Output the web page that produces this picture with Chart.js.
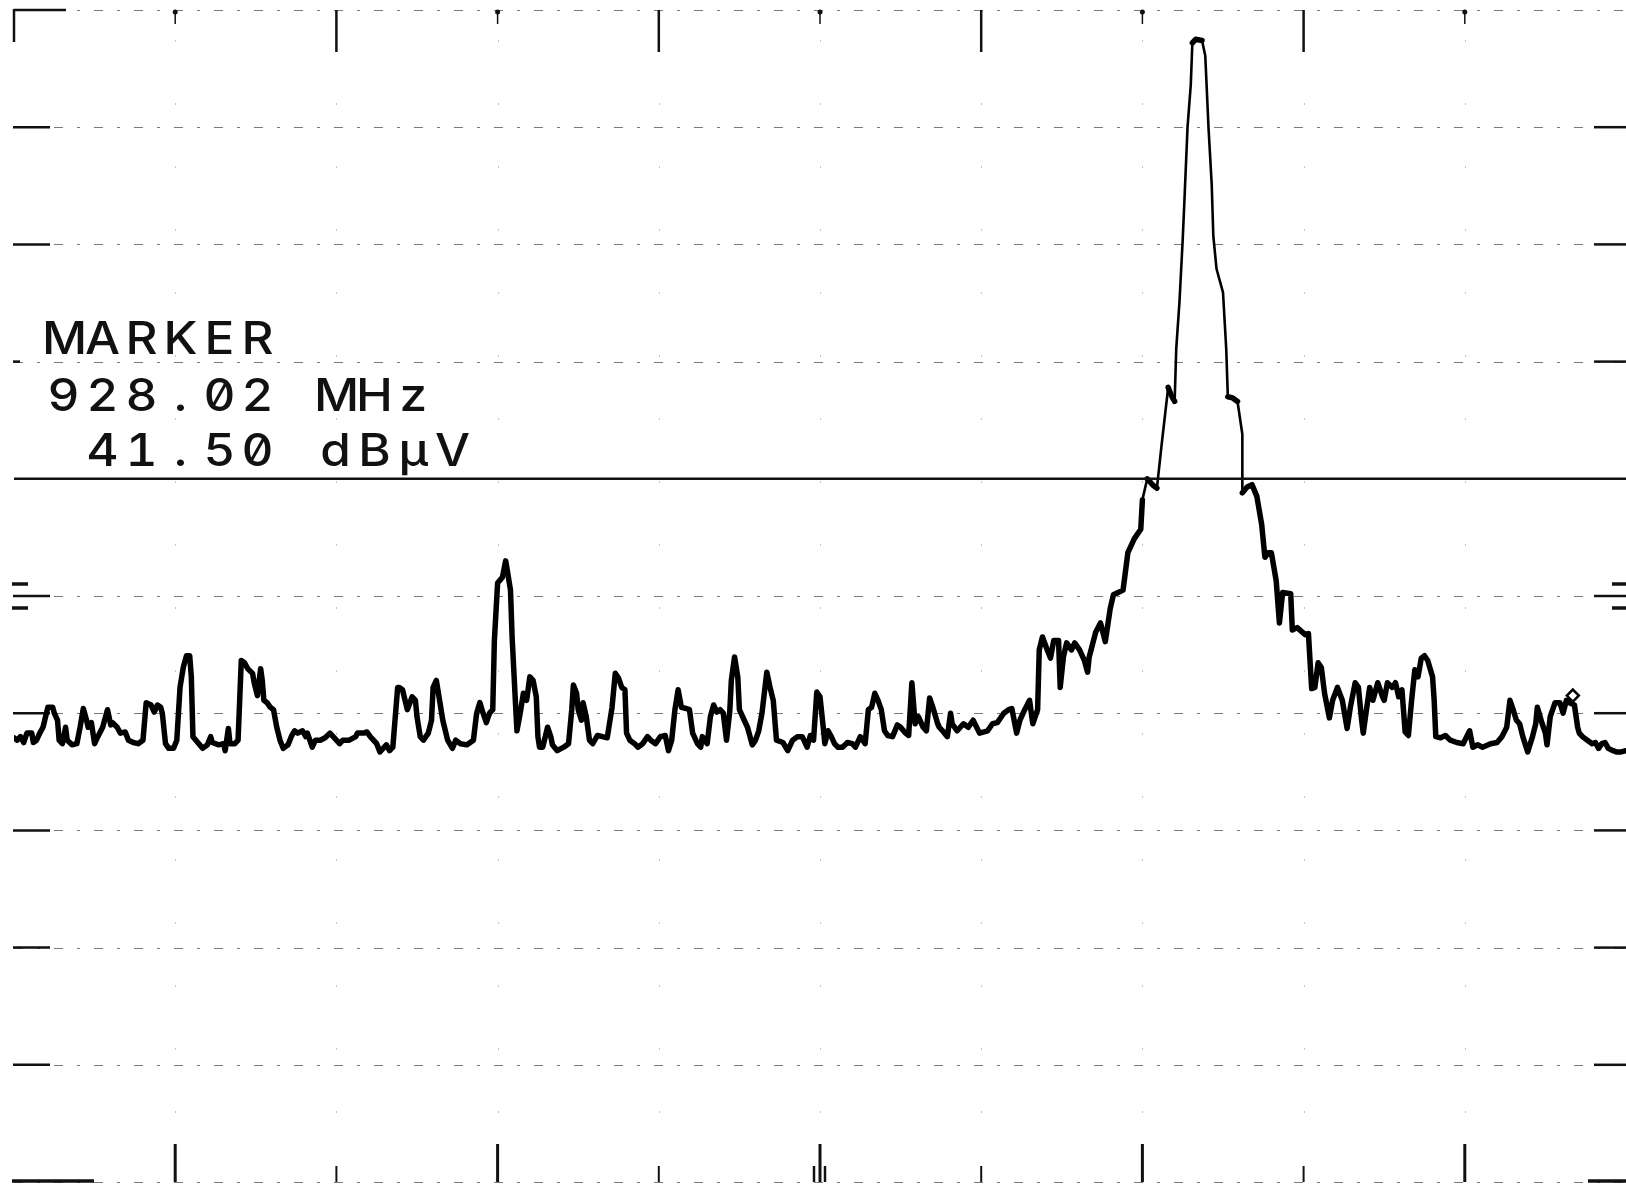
<!DOCTYPE html>
<html>
<head>
<meta charset="utf-8">
<script src="https://cdn.jsdelivr.net/npm/chart.js@4.4.1/dist/chart.umd.min.js"></script>
<style>
  html, body { margin: 0; padding: 0; background: #fff; overflow: hidden; }
  #wrap { position: relative; width: 1626px; height: 1187px; }
  #plot { position: absolute; left: 0; top: 0; }
  .readout { position: absolute; left: 44px; font-family: Inter, 'DejaVu Sans', sans-serif; font-size: 45px; line-height: 45px;
             font-weight: 500; color: #111; white-space: pre; font-feature-settings: "zero" 1, "tnum" 1; }
  .readout span { display: inline-block; width: 38.9px; text-align: center; transform: scaleX(1.1); }
</style>
</head>
<body>
<div id="wrap">
  <canvas id="plot" width="1626" height="1187"></canvas>
</div>
<script>
// trace position along the sweep, in percent of span (0 = left edge, 100 = right edge)
const traceX = [
  0.0, 0.2, 0.4, 0.6, 0.8, 1.1, 1.2, 1.4, 1.6, 1.8,
  2.1, 2.4, 2.5, 2.7, 2.8, 3.0, 3.2, 3.3, 3.6, 3.9,
  4.1, 4.3, 4.5, 4.6, 4.8, 5.0, 5.2, 5.5, 5.8, 6.0,
  6.1, 6.4, 6.6, 6.9, 7.1, 7.4, 7.7, 8.0, 8.2, 8.5,
  8.7, 8.9, 9.1, 9.2, 9.4, 9.6, 9.9, 10.1, 10.3, 10.5,
  10.7, 10.9, 11.0, 11.1, 11.4, 11.7, 12.0, 12.2, 12.3, 12.7,
  13.0, 13.1, 13.3, 13.4, 13.7, 13.9, 14.0, 14.1, 14.3, 14.5,
  14.8, 14.9, 15.1, 15.3, 15.4, 15.5, 15.7, 15.9, 16.1, 16.3,
  16.5, 16.7, 17.0, 17.2, 17.4, 17.6, 17.9, 18.1, 18.2, 18.5,
  18.7, 19.0, 19.3, 19.6, 19.8, 20.0, 20.2, 20.4, 20.8, 21.2,
  21.3, 21.7, 21.9, 22.1, 22.3, 22.5, 22.7, 22.9, 23.1, 23.3,
  23.5, 23.8, 23.9, 24.1, 24.4, 24.7, 24.9, 25.0, 25.2, 25.4,
  25.7, 25.9, 26.0, 26.2, 26.4, 26.6, 26.9, 27.2, 27.4, 27.7,
  28.1, 28.5, 28.7, 28.9, 29.1, 29.3, 29.5, 29.7, 29.8, 30.0,
  30.3, 30.5, 30.6, 30.8, 30.9, 31.1, 31.2, 31.4, 31.6, 31.8,
  32.0, 32.2, 32.4, 32.5, 32.6, 32.8, 33.1, 33.3,
  33.4, 33.7, 34.1, 34.4, 34.6, 34.7, 34.9, 35.0, 35.2, 35.3,
  35.5, 35.7, 35.9, 36.2, 36.5, 36.8, 37.1, 37.3, 37.5, 37.7,
  37.9, 38.0, 38.2, 38.5, 38.7, 39.0, 39.3, 39.5, 39.8, 40.1,
  40.4, 40.6, 40.8, 41.0, 41.2, 41.4, 41.7, 41.9, 42.1, 42.4,
  42.6, 42.7, 43.0, 43.2, 43.4, 43.6, 43.8, 44.0, 44.2, 44.4,
  44.5, 44.7, 44.9, 45.0, 45.3, 45.5, 45.8, 46.0, 46.2, 46.4,
  46.7, 46.9, 47.1, 47.3, 47.7, 48.0, 48.3, 48.6, 48.9, 49.2,
  49.4,
  49.6, 49.8, 50.0, 50.2, 50.3, 50.5, 50.7, 50.9, 51.1, 51.4,
  51.7, 52.0, 52.2, 52.5, 52.8, 53.0, 53.2, 53.4, 53.6, 53.8,
  54.0, 54.2, 54.5, 54.8, 55.0, 55.3, 55.5, 55.7, 55.9, 56.1,
  56.4, 56.6, 56.8, 57.0, 57.3, 57.4, 57.6, 57.9, 58.1, 58.2,
  58.5, 58.9, 59.2, 59.5, 59.9, 60.4, 60.7, 61.0, 61.4, 61.7,
  61.9, 62.2, 62.4, 62.7, 63.0, 63.2, 63.5, 63.6, 63.8, 64.1,
  64.3, 64.5, 64.8, 64.9, 65.1, 65.3, 65.6, 65.8, 66.1, 66.4,
  66.6,
  66.7, 67.1, 67.4, 67.7, 68.0, 68.2, 68.5, 68.8, 69.1, 69.5,
  69.9, 70.0, 70.3, 70.7, 70.9, 71.2, 71.4, 71.6, 71.8, 72.0,
  72.1, 72.3, 72.5, 72.6, 72.8, 73.0, 73.1, 73.3, 73.7, 73.9,
  74.1, 74.3, 74.4, 74.6, 75.0, 75.2, 75.3, 75.6, 75.9, 76.2,
  76.2, 76.5, 76.8, 77.1, 77.4, 77.6, 77.8, 78.0, 78.3, 78.5,
  78.7, 79.2, 79.3, 79.6, 80.1, 80.3,
  80.5, 80.7, 80.9, 81.1, 81.3, 81.6, 81.8, 82.1, 82.4, 82.7,
  82.9, 83.2, 83.4, 83.6, 83.7, 83.9, 84.1, 84.3, 84.6, 84.9,
  85.0, 85.2, 85.5, 85.7, 85.9, 86.1, 86.3, 86.5, 86.7, 86.9,
  87.1, 87.3, 87.5, 87.7, 88.0, 88.1, 88.2, 88.5, 88.8, 89.1,
  89.5, 89.9, 90.3, 90.5, 90.8, 91.1, 91.6, 92.0, 92.3, 92.6,
  92.8, 93.0, 93.2, 93.4, 93.6, 93.9, 94.2, 94.4, 94.5, 94.8,
  95.0, 95.1, 95.3, 95.6, 95.9, 96.1, 96.3, 96.5, 96.8, 97.0,
  97.1, 97.3, 97.6, 97.9, 98.1, 98.3, 98.5, 98.7, 98.9, 99.2,
  99.4, 99.7, 100.0
];

// trace level, dBµV
const traceY = [
  -18.1, -18.3, -18.0, -18.5, -17.7, -17.7, -18.5, -18.3, -17.7, -17.2,
  -15.5, -15.5, -16.0, -16.6, -18.3, -18.6, -17.2, -18.3, -18.7, -18.6,
  -17.2, -15.6, -16.6, -17.2, -16.8, -18.6, -18.0, -17.2, -15.7, -17.0,
  -16.8, -17.2, -17.7, -17.6, -18.3, -18.5, -18.6, -18.3, -15.1, -15.3,
  -15.9, -15.3, -15.5, -16.0, -18.6, -19.0, -19.0, -18.3, -13.8, -12.1,
  -11.1, -11.1, -12.9, -18.0, -18.5, -19.0, -18.7, -18.0, -18.5, -18.7,
  -18.6, -19.2, -17.3, -18.6, -18.6, -18.3, -14.9, -11.5, -11.7, -12.2,
  -12.6, -13.4, -14.5, -12.2, -13.2, -14.9, -15.1, -15.5, -15.7, -17.2,
  -18.3, -19.0, -18.7, -18.0, -17.5, -17.7, -17.5, -18.0, -17.7, -18.9,
  -18.3, -18.3, -18.1, -17.7, -18.0, -18.3, -18.6, -18.3, -18.3, -18.0,
  -17.7, -17.7, -17.6, -18.0, -18.3, -18.6, -19.3, -19.0, -18.7, -19.2,
  -18.9, -13.8, -13.8, -14.0, -15.7, -14.6, -14.9, -16.3, -18.0, -18.3,
  -17.7, -16.6, -13.8, -13.2, -14.9, -16.6, -18.3, -19.0, -18.3, -18.6,
  -18.7, -18.3, -16.0, -15.1, -16.0, -16.8, -16.0, -15.7, -9.8, -4.9,
  -4.4, -3.0, -3.8, -5.5, -9.5, -14.9, -17.5, -16.0, -14.3, -14.9,
  -12.9, -13.2, -14.6, -18.0, -18.9, -18.9, -17.2, -18.0,
  -18.7, -19.2, -18.9, -18.6, -15.7, -13.6, -14.3, -15.7, -16.6, -15.1,
  -16.3, -18.3, -18.6, -17.9, -18.0, -18.1, -15.5, -12.6, -13.0, -13.8,
  -14.0, -17.7, -18.3, -18.6, -18.9, -18.6, -18.0, -18.3, -18.6, -18.0,
  -17.9, -19.2, -18.3, -15.7, -14.0, -15.5, -15.6, -15.7, -17.7, -18.6,
  -18.9, -18.0, -18.6, -16.3, -15.3, -15.9, -15.7, -16.0, -18.3, -15.9,
  -13.2, -11.2, -12.9, -15.7, -16.6, -17.2, -18.7, -18.3, -17.5, -16.0,
  -12.5, -13.8, -14.9, -18.3, -18.5, -19.2, -18.3, -18.0, -18.0, -18.9,
  -17.9,
  -18.3, -14.2, -14.6, -17.2, -18.6, -17.5, -18.0, -18.6, -18.9, -18.9,
  -18.5, -18.6, -18.9, -18.0, -18.6, -15.7, -15.5, -14.3, -14.9, -15.7,
  -17.5, -17.9, -18.0, -17.0, -17.2, -17.7, -17.9, -13.4, -16.9, -16.3,
  -17.2, -17.5, -14.7, -15.5, -16.9, -17.2, -17.5, -18.0, -16.0, -16.9,
  -17.5, -16.9, -17.2, -16.6, -17.7, -17.5, -16.9, -16.8, -16.0, -15.7,
  -15.6, -17.7, -16.6, -15.7, -14.9, -16.9, -15.7, -10.6, -9.5, -10.6,
  -11.3, -9.8, -9.8, -13.8, -11.2, -10.0, -10.6, -10.0, -10.6, -11.5,
  -12.5,
  -11.2, -9.1, -8.3, -9.9, -7.1, -5.9, -5.7, -5.5, -2.3, -1.1,
  -0.3, 2.2, 4.0, 3.4, 3.2, 7.0, 9.4, 11.8, 11.1, 10.6,
  15.1, 19.1, 24.4, 27.5, 34.0, 37.6, 41.2, 41.5, 41.4, 40.1,
  34.0, 29.1, 24.7, 21.9, 19.9, 15.1, 11.0, 10.9, 10.6, 7.8,
  2.8, 3.3, 3.5, 2.5, 0.1, -2.7, -2.3, -2.3, -4.7, -8.3,
  -5.7, -5.8, -8.9, -8.7, -9.3, -9.2,
  -13.9, -13.8, -11.7, -12.1, -14.3, -16.4, -14.9, -13.8, -14.9, -17.3,
  -15.5, -13.4, -13.8, -16.6, -17.7, -15.7, -13.8, -14.9, -13.4, -14.6,
  -14.9, -13.4, -13.8, -13.4, -14.6, -14.0, -17.6, -17.9, -14.9, -12.3,
  -12.9, -11.3, -11.1, -11.5, -12.9, -14.9, -18.0, -18.1, -17.9, -18.3,
  -18.5, -18.6, -17.5, -18.9, -18.7, -18.9, -18.6, -18.5, -18.0, -17.2,
  -14.9, -15.7, -16.6, -16.9, -18.0, -19.3, -18.0, -16.9, -15.5, -16.9,
  -17.7, -18.7, -16.3, -15.1, -15.1, -16.0, -14.9, -15.1, -15.3, -17.2,
  -17.7, -18.0, -18.3, -18.6, -18.5, -19.0, -18.6, -18.5, -19.0, -19.2,
  -19.3, -19.3, -19.2
];

const diamondX = [96.7];
const diamondY = [-14.5];

const refTop = 44;         // dBµV at top graticule line
const refBottom = -56;     // dBµV at bottom graticule line
const displayLine = 4;     // dBµV
const gridLevels = [34, 24, 14, -6, -16, -26, -36, -46];
const divisions = [10, 20, 30, 40, 50, 60, 70, 80, 90];

const readout = ['MARKER', '928.02 MHz', ' 41.50 dBμV'];
const readoutTops = [315, 372, 427];

const wrap = document.getElementById('wrap');
readout.forEach((txt, i) => {
  const div = document.createElement('div');
  div.className = 'readout';
  div.style.top = readoutTops[i] + 'px';
  [...txt].forEach(ch => {
    const s = document.createElement('span');
    s.textContent = ch;
    div.appendChild(s);
  });
  wrap.appendChild(div);
});

function seg(ctx, x1, y1, x2, y2) {
  ctx.beginPath();
  ctx.moveTo(x1, y1);
  ctx.lineTo(x2, y2);
  ctx.stroke();
}

const graticule = {
  id: 'graticule',
  beforeDatasetsDraw(chart) {
    const { ctx, chartArea: a, scales: { x, y } } = chart;
    ctx.save();
    ctx.lineCap = 'butt';

    // faint vertical grid (mostly dropped out on the plot)
    ctx.strokeStyle = '#c4c4c4';
    ctx.lineWidth = 1;
    ctx.setLineDash([2, 61]);
    divisions.forEach(v => {
      const px = Math.round(x.getPixelForValue(v)) + 0.5;
      seg(ctx, px, a.top + 30, px, a.bottom - 40);
    });

    // horizontal graticule
    ctx.strokeStyle = '#7a7a7a';
    ctx.lineWidth = 1.2;
    ctx.setLineDash([9, 14, 3, 14]);
    gridLevels.concat([refTop, refBottom]).forEach(v => {
      const py = Math.round(y.getPixelForValue(v)) + 0.5;
      seg(ctx, a.left, py, a.right, py);
    });

    // solid stubs at both ends of each graticule line
    ctx.setLineDash([]);
    ctx.strokeStyle = '#111';
    ctx.lineWidth = 2.5;
    gridLevels.forEach(v => {
      const py = y.getPixelForValue(v);
      seg(ctx, a.left - 1, py, a.left + (v === 14 ? 6 : 36), py);
      seg(ctx, a.right - 32, py, a.right, py);
    });

    // top left corner
    const top = y.getPixelForValue(refTop);
    seg(ctx, a.left, top, a.left + 52, top);
    seg(ctx, a.left, top - 1, a.left, top + 32);

    // bottom border solid ends
    const bot = y.getPixelForValue(refBottom);
    ctx.lineWidth = 3.5;
    seg(ctx, a.left - 2, bot - 1, a.left + 80, bot - 1);
    seg(ctx, a.right - 38, bot - 1, a.right, bot - 1);

    // reference level marks on the -6 line
    const rl = y.getPixelForValue(-6);
    ctx.lineWidth = 3.5;
    [-12, 12].forEach(d => {
      seg(ctx, a.left - 2, rl + d, a.left + 14, rl + d);
      seg(ctx, a.right - 14, rl + d, a.right, rl + d);
    });

    // ticks on top edge
    divisions.forEach((v, i) => {
      const px = x.getPixelForValue(v);
      if (i % 2 === 1) {
        ctx.lineWidth = 2.5;
        seg(ctx, px, top, px, top + 42);
      } else {
        ctx.lineWidth = 1.5;
        seg(ctx, px, top, px, top + 14);
        ctx.beginPath();
        ctx.arc(px, top + 2, 2.5, 0, Math.PI * 2);
        ctx.fillStyle = '#111';
        ctx.fill();
      }
    });

    // ticks on bottom edge
    divisions.forEach((v, i) => {
      const px = x.getPixelForValue(v);
      if (i % 2 === 0) {
        ctx.lineWidth = 3;
        seg(ctx, px, bot - 38, px, bot);
      } else {
        ctx.lineWidth = 2;
        seg(ctx, px, bot - 16, px, bot);
      }
    });
    const mid = x.getPixelForValue(50);
    ctx.lineWidth = 2.5;
    seg(ctx, mid - 6, bot - 16, mid - 6, bot);
    seg(ctx, mid + 5, bot - 16, mid + 5, bot);

    ctx.restore();
  }
};

new Chart(document.getElementById('plot').getContext('2d'), {
  type: 'line',
  data: {
    datasets: [
      {
        label: 'display line',
        data: [{ x: 0, y: displayLine }, { x: 100, y: displayLine }],
        borderColor: '#111',
        borderWidth: 2.5,
        pointRadius: 0
      },
      {
        label: 'trace',
        data: traceX.map((v, i) => ({ x: v, y: traceY[i] })),
        borderColor: '#000',
        borderWidth: 5.5,
        borderJoinStyle: 'round',
        borderCapStyle: 'round',
        pointRadius: 0,
        tension: 0,
        segment: {
          borderWidth: c => (Math.min(c.p0.parsed.y, c.p1.parsed.y) > 2 && Math.abs(c.p1.y - c.p0.y) > 15) ? 2.6 : 5.5
        }
      },
      {
        label: 'marker',
        data: diamondX.map((v, i) => ({ x: v, y: diamondY[i] })),
        showLine: false,
        pointStyle: 'rectRot',
        pointRadius: 6,
        pointBorderWidth: 2.5,
        pointBorderColor: '#000',
        pointBackgroundColor: '#fff'
      }
    ]
  },
  options: {
    responsive: false,
    animation: false,
    devicePixelRatio: 1,
    layout: { autoPadding: false, padding: { left: 14, top: 10, right: 0, bottom: 5 } },
    scales: {
      x: { type: 'linear', min: 0, max: 100, display: false },
      y: { min: refBottom, max: refTop, display: false }
    },
    plugins: {
      legend: { display: false },
      tooltip: { enabled: false }
    }
  },
  plugins: [graticule]
});
</script>
</body>
</html>
